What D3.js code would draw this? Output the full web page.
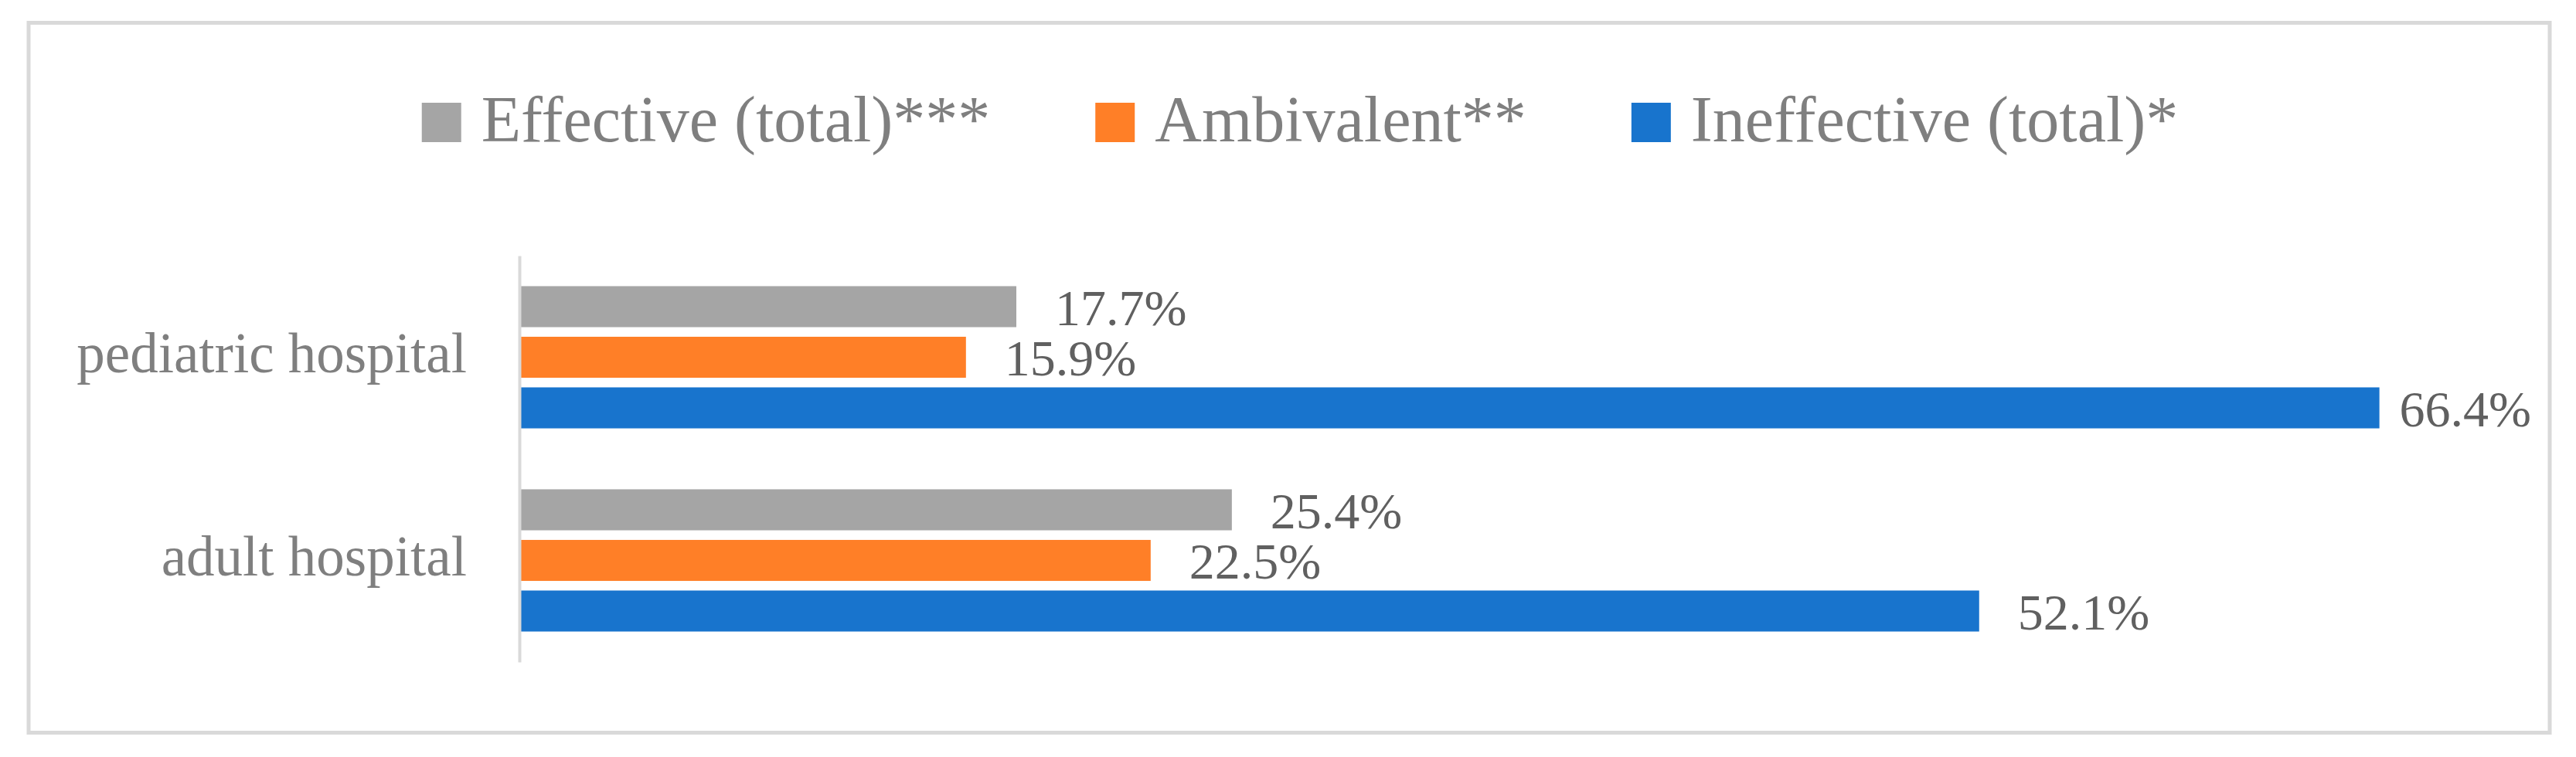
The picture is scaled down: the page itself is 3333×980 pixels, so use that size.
<!DOCTYPE html>
<html>
<head>
<meta charset="utf-8">
<script src="https://cdn.jsdelivr.net/npm/d3@7"></script>
<style>
  html, body { margin: 0; padding: 0; background: #ffffff; }
  svg { display: block; }
  text { font-family: "Liberation Serif", "DejaVu Serif", serif; }
</style>
</head>
<body>
<svg id="chart" width="3333" height="980"></svg>
<script>
// ---- data ----
const categories = ["pediatric hospital", "adult hospital"];
const seriesNames = ["Effective (total)***", "Ambivalent**", "Ineffective (total)*"];
const seriesColors = ["#A5A5A5", "#FF7F27", "#1874CD"];
const effectiveValues = [17.7, 25.4];
const ambivalentValues = [15.9, 22.5];
const ineffectiveValues = [66.4, 52.1];
const seriesValues = [effectiveValues, ambivalentValues, ineffectiveValues];

// ---- layout ----
const W = 3333, H = 980;
const svg = d3.select("#chart");

// frame
svg.append("rect")
  .attr("x", 37).attr("y", 29.5)
  .attr("width", 3262).attr("height", 919)
  .attr("fill", "#ffffff")
  .attr("stroke", "#D9D9D9").attr("stroke-width", 5);

const plotLeft = 674, plotRight = 3209, plotTop = 331, plotBottom = 857;
const labelLimit = 3275;

const x = d3.scaleLinear().domain([0, 70]).range([plotLeft, plotRight]);
const y0 = d3.scaleBand().domain(categories).range([plotTop, plotBottom])
  .paddingInner(0.3).paddingOuter(0.15);
const y1 = d3.scaleBand().domain(seriesNames).range([0, y0.bandwidth()])
  .paddingInner(0.19).paddingOuter(0);

// bars
const rows = [];
categories.forEach((c, ci) => {
  seriesNames.forEach((s, si) => {
    rows.push({ cat: c, series: s, si: si, value: seriesValues[si][ci] });
  });
});

const g = svg.append("g");
g.selectAll("rect.bar").data(rows).enter().append("rect")
  .attr("class", "bar")
  .attr("x", x(0))
  .attr("y", d => y0(d.cat) + y1(d.series))
  .attr("width", d => x(d.value) - x(0))
  .attr("height", y1.bandwidth())
  .attr("fill", d => seriesColors[d.si]);

// value labels
g.selectAll("text.val").data(rows).enter().append("text")
  .attr("class", "val")
  .attr("font-size", 66)
  .attr("fill", "#606060")
  .attr("y", d => y0(d.cat) + y1(d.series) + y1.bandwidth() / 2)
  .attr("dy", "0.36em")
  .text(d => d.value.toFixed(1) + "%")
  .attr("x", function(d) {
    const w = this.getComputedTextLength();
    return Math.min(x(d.value) + 50, labelLimit - w);
  });

// vertical axis
const yAxis = d3.axisLeft(y0).tickSize(0).tickPadding(68);
const ax = svg.append("g").attr("transform", `translate(${plotLeft - 2},0)`).call(yAxis);
ax.select(".domain").attr("stroke", "#D9D9D9").attr("stroke-width", 4);
ax.selectAll(".tick text")
  .attr("font-size", 73)
  .attr("font-family", "Liberation Serif, DejaVu Serif, serif")
  .attr("fill", "#7F7F7F")
  .attr("dy", "0.27em");

// legend
const legend = svg.append("g");
const legendCenter = 1682, swatch = 51, swGap = 26, itemGap = 136, legendBase = 183;
const items = legend.selectAll("g.item").data(seriesNames).enter().append("g").attr("class", "item");
items.append("rect")
  .attr("width", swatch).attr("height", swatch)
  .attr("y", 133)
  .attr("fill", (d, i) => seriesColors[i]);
items.append("text")
  .attr("font-size", 84)
  .attr("fill", "#7F7F7F")
  .attr("y", legendBase)
  .text(d => d);
const widths = [];
items.select("text").each(function() { widths.push(this.getComputedTextLength()); });
const total = d3.sum(widths) + seriesNames.length * (swatch + swGap) + (seriesNames.length - 1) * itemGap;
let cx = legendCenter - total / 2;
items.each(function(d, i) {
  const it = d3.select(this);
  it.select("rect").attr("x", cx);
  it.select("text").attr("x", cx + swatch + swGap);
  cx += swatch + swGap + widths[i] + itemGap;
});
</script>
</body>
</html>
